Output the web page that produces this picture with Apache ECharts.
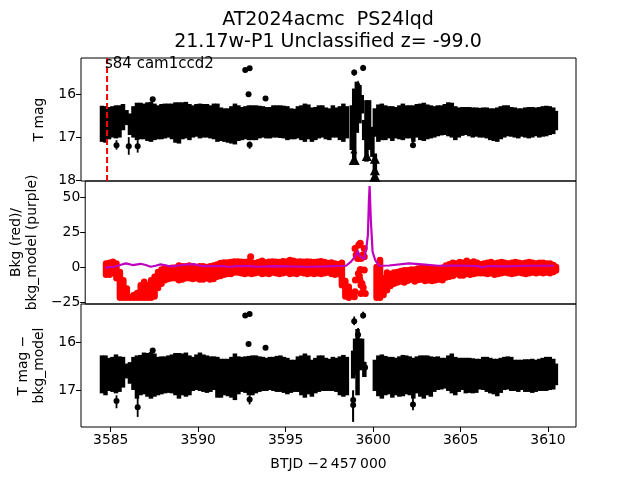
<!DOCTYPE html>
<html><head><meta charset="utf-8">
<style>html,body{margin:0;padding:0;background:#fff}#c{width:640px;height:480px}</style>
<script src="https://cdn.jsdelivr.net/npm/echarts@6/dist/echarts.min.js"></script>
</head><body><div id="c"></div>
<script>
const xTicks=[3585,3590,3595,3600,3605,3610];
const magTicksTop=[16,17,18], bgTicks=[-25,0,25,50], magTicksBot=[16,17];
const titleLine1='AT2024acmc  PS24lqd', titleLine2='21.17w-P1 Unclassified z= -99.0';
const note='s84 cam1ccd2';
const discoveryTime=3584.79;

const bandTimes=[3584.5,3584.7,3584.9,3585.1,3585.3,3585.5,3585.7,3585.9,3586.1,3586.3,
3586.5,3586.7,3586.9,3587.1,3587.3,3587.5,3587.7,3587.9,3588.1,3588.3,
3588.5,3588.7,3588.9,3589.1,3589.3,3589.5,3589.7,3589.9,3590.1,3590.3,
3590.5,3590.7,3590.9,3591.1,3591.3,3591.5,3591.7,3591.9,3592.1,3592.3,
3592.5,3592.7,3592.9,3593.1,3593.3,3593.5,3593.7,3593.9,3594.1,3594.3,
3594.5,3594.7,3594.9,3595.1,3595.3,3595.5,3595.7,3595.9,3596.1,3596.3,
3596.5,3596.7,3596.9,3597.1,3597.3,3597.5,3597.7,3597.9,3598.1,3598.3,3598.5,
3600.1,3600.3,3600.5,3600.7,3600.9,3601.1,3601.3,3601.5,3601.7,3601.9,
3602.1,3602.3,3602.5,3602.7,3602.9,3603.1,3603.3,3603.5,3603.7,3603.9,
3604.1,3604.3,3604.5,3604.7,3604.9,3605.1,3605.3,3605.5,3605.7,3605.9,
3606.1,3606.3,3606.5,3606.7,3606.9,3607.1,3607.3,3607.5,3607.7,3607.9,
3608.1,3608.3,3608.5,3608.7,3608.9,3609.1,3609.3,3609.5,3609.7,3609.9,
3610.1,3610.3,3610.45];

const magUpper=[16.27,16.28,16.30,16.28,16.26,16.26,16.23,16.37,16.45,16.28,
16.20,16.20,16.22,16.19,16.18,16.22,16.26,16.23,16.22,16.22,
16.22,16.19,16.19,16.19,16.18,16.23,16.26,16.23,16.22,16.23,
16.23,16.26,16.22,16.22,16.31,16.33,16.33,16.28,16.22,16.26,
16.30,16.28,16.26,16.26,16.26,16.27,16.28,16.30,16.30,16.26,
16.26,16.26,16.27,16.28,16.33,16.34,16.28,16.26,16.22,16.24,
16.31,16.30,16.26,16.26,16.31,16.33,16.26,16.31,16.28,16.22,16.28,
16.33,16.24,16.22,16.26,16.28,16.28,16.30,16.26,16.22,16.26,
16.26,16.26,16.23,16.22,16.20,16.24,16.26,16.28,16.26,16.26,
16.23,16.19,16.20,16.28,16.31,16.30,16.30,16.30,16.31,16.31,
16.32,16.31,16.31,16.33,16.33,16.31,16.28,16.26,16.26,16.30,
16.31,16.33,16.33,16.31,16.30,16.30,16.31,16.30,16.28,16.27,
16.28,16.31,16.39];
const magLower=[17.11,17.13,17.05,17.01,17.03,17.01,16.84,16.72,16.95,17.01,
17.07,17.05,17.05,17.09,17.11,17.07,17.05,17.05,17.03,17.01,
17.05,17.13,17.15,17.05,17.03,17.07,17.01,16.99,17.03,17.01,
17.01,17.03,17.05,17.11,17.09,17.11,17.13,17.15,17.17,17.09,
17.07,17.05,17.07,17.07,17.07,17.03,17.01,17.03,17.03,17.01,
17.01,17.02,17.03,17.07,17.05,17.05,17.03,17.07,17.11,17.05,
17.11,17.07,17.03,17.01,17.05,17.07,17.01,17.01,17.07,17.11,17.03,
16.99,17.11,17.07,17.07,17.03,17.09,17.03,17.05,17.07,17.03,
17.03,17.11,17.01,17.07,17.09,17.05,17.03,17.01,16.98,16.96,
16.95,16.98,17.01,17.07,17.01,16.97,16.95,16.98,17.01,16.99,
17.01,17.01,17.03,17.07,17.09,17.11,17.05,17.01,16.98,16.99,
17.01,17.03,16.99,17.01,17.03,17.01,16.98,17.01,16.99,16.98,
16.95,16.93,16.84];

const bkgUpper=[2.5,3,3.8,2.5,-3.5,-9.5,-15.4,-21.4,-20,-18.5,
-13,-10.6,-13,-9.5,-7,-3.5,-1.8,-0.6,-1.1,-0.6,
-0.3,1,0.5,0.5,1,0.5,0,0.5,0.5,0,
0.5,1,1.8,2.8,3.3,3.3,3.5,4,4,3.8,
3.5,4,3.3,2.8,3.5,4.5,3.3,3.8,4,3.8,
3.5,4.2,4,5,4.5,3.8,4,3.8,4,3.8,
3.5,3.8,4.2,3.5,2.8,3.3,2.5,2,3,-10,-14,
0,5,-8,-4,-5,-4,-3.5,-2.8,-2.3,-2.3,
-1.8,-1.8,-1,-0.6,-0.3,-1,-1,-1.5,-1,-0.5,
1,2,3,2.5,3.5,3,4.5,3,4,3,
2,2.5,3,3.5,2.5,3,3.5,3,2.5,3,
3.5,3,2.5,3,3.5,3,2.5,3,3,2.5,
2.5,1.5,0];
const bkgLower=[-5.6,-5.6,-4.5,-8,-22,-22,-22,-22,-22,-22,
-22,-22,-22,-22,-21,-15,-12,-9.5,-8.5,-8,
-8,-9.5,-9,-8,-8,-8.5,-8,-9,-9,-8,
-9,-8.5,-7,-6.5,-5.5,-5,-5,-4,-4,-4.5,
-5,-4.5,-5,-4.5,-4,-5,-4.5,-5,-4,-4.5,
-5,-4.5,-4,-5,-4.5,-5,-4,-4.5,-5,-4.5,
-5,-4.5,-5,-4.5,-4,-5,-5.5,-5,-13,-21,-22,
-22,-22,-20,-16.5,-13.5,-12,-11,-10.4,-11,-9.8,
-9,-10.4,-9.3,-9,-10,-9.5,-10,-9.5,-9,-9.5,
-7.5,-7,-6.5,-5,-6,-6,-5,-5.5,-5,-4.5,
-4.5,-4.5,-5,-4.5,-5.5,-5,-4.5,-4,-4.5,-5,
-4.5,-4,-4.5,-5,-4.5,-4,-4.5,-4,-4.5,-4,
-4.5,-3.5,-2.5];

const resUpper=[16.27,16.27,16.32,16.30,16.25,16.29,16.30,16.44,16.41,16.30,
16.27,16.26,16.21,16.22,16.20,16.23,16.30,16.29,16.29,16.27,
16.25,16.22,16.22,16.23,16.21,16.27,16.30,16.25,16.21,16.25,
16.27,16.29,16.29,16.30,16.34,16.34,16.34,16.30,16.23,16.29,
16.30,16.29,16.28,16.27,16.27,16.29,16.30,16.32,16.30,16.30,
16.28,16.27,16.30,16.32,16.36,16.36,16.29,16.27,16.23,16.27,
16.36,16.32,16.27,16.27,16.32,16.34,16.30,16.32,16.29,16.26,16.30,
16.36,16.27,16.25,16.28,16.30,16.30,16.32,16.29,16.26,16.27,
16.29,16.32,16.29,16.27,16.27,16.27,16.29,16.30,16.29,16.32,
16.32,16.27,16.23,16.30,16.32,16.32,16.32,16.32,16.33,16.34,
16.34,16.30,16.30,16.32,16.34,16.34,16.32,16.30,16.29,16.30,
16.36,16.36,16.36,16.35,16.35,16.34,16.36,16.34,16.32,16.30,
16.30,16.34,16.44];
const resLower=[17.06,17.10,17.01,17.03,17.06,17.03,16.94,16.75,16.86,16.99,
17.17,17.10,17.08,17.13,17.17,17.13,17.10,17.08,17.06,17.05,
17.06,17.10,17.17,17.10,17.13,17.10,17.01,16.99,17.01,17.03,
17.05,17.03,16.99,17.15,17.15,17.10,17.12,17.15,17.20,17.08,
17.03,17.05,17.10,17.10,17.06,17.03,17.01,17.01,16.99,17.01,
17.03,17.03,17.05,17.08,17.05,17.03,17.03,17.10,17.15,17.08,
17.13,17.06,17.03,17.01,17.01,17.01,17.01,17.03,17.10,17.13,17.10,
17.01,17.12,17.17,17.10,17.08,17.15,17.10,17.13,17.12,17.08,
17.10,17.17,17.06,17.13,17.17,17.10,17.13,17.03,16.99,16.98,
16.96,17.01,17.06,17.10,17.03,16.99,17.06,17.05,17.06,17.05,
16.98,16.99,17.03,17.06,17.08,17.12,17.05,16.99,16.98,17.01,
17.01,17.03,16.99,17.03,17.03,17.05,17.03,17.01,17.01,17.01,
16.99,16.98,16.89];

const magColTimes=[3598.78,3598.92,3599.07,3599.22,3599.35,3599.49,3599.62,3599.77,3599.96,3600.1];
const magColUpper=[16.26,15.87,15.71,15.79,16.02,16.60,16.14,16.14,16.76,17.38];
const magColLower=[17.30,17.61,16.90,16.68,16.45,17.07,17.57,17.30,17.46,17.96];
const resColTimes=[3598.86,3598.97,3599.11,3599.24,3599.37,3599.5];
const resColUpper=[16.17,15.92,15.72,15.92,15.92,16.41];
const resColLower=[16.75,16.68,17.10,16.58,16.48,16.72];

const magDotTimes=[3585.33,3586.03,3586.54,3587.4,3592.69,3592.94,3592.88,3593.85,3592.94,3598.92,3599.43,3602.28];
const magDotVals=[17.19,17.21,17.21,16.12,15.44,15.40,16.0,16.10,17.18,15.50,15.39,17.19];
const magDotUp=[17.07,17.0,17.07,16.08,15.41,15.37,15.97,16.07,17.1,15.43,15.32,17.1];
const magDotLow=[17.29,17.41,17.36,16.16,15.47,15.43,16.03,16.13,17.27,15.57,15.46,17.25];
const triTimes=[3598.92,3599.64,3600.1,3600.1,3600.1,3599.14,3598.9,3599.8];
const triVals=[17.52,17.44,17.5,17.77,17.91,15.75,17.3,17.2];
const triSizes=[11,10,10,10,11,6,7,7];

const resDotTimes=[3585.33,3586.54,3587.4,3592.69,3592.94,3592.88,3593.85,3592.94,3598.92,3599.43,3599.14,3599.54,3598.86,3598.86,3602.28];
const resDotVals=[17.22,17.35,16.17,15.44,15.41,16.03,16.11,17.19,15.56,15.44,15.84,16.52,17.2,17.3,17.29];
const resDotUp=[17.1,17.1,16.13,15.41,15.38,16.0,16.08,17.1,15.46,15.36,15.7,16.4,17.0,17.0,17.16];
const resDotLow=[17.37,17.55,16.2,15.47,15.44,16.06,16.14,17.29,15.64,15.5,15.95,16.72,17.65,17.65,17.41];

const bkgDotTimes=[3598.86,3599.16,3599.07,3599.39,3598.92,3599.39,3599.01,3599.20,3599.30,3599.16,3599.39,3598.88,3599.14,3599.20,3599.33,3598.86,3598.82,3599.45,3599.05,3599.11,3599.26,3599.20,3592.84];
const bkgDotVals=[13.3,16.9,15.7,13.3,8.5,7.3,6.1,6.1,8.5,-1.7,-2.2,-9.3,-9.3,-12.9,-14.6,-17.7,-21.2,-18.9,-4.6,-6.5,-11.7,-18.9,7.3];

const modelTimes=[3584.45,3584.98,3585.36,3585.65,3586.03,3586.5,3586.79,3587.07,3587.36,3587.64,3588.12,3588.5,3588.98,3589.55,3590.02,3590.69,3591.26,3591.64,3592.02,3592.78,3593.35,3594.11,3595.06,3596.02,3597.16,3598.34,3598.63,3598.92,3599.01,3599.14,3599.39,3599.52,3599.6,3599.66,3599.7,3599.73,3599.77,3599.87,3600.02,3600.25,3600.82,3601.96,3602.72,3603.67,3604.62,3605.96,3606.15,3606.53,3607.48,3608.81,3610.33];
const modelVals=[-0.5,0.2,1.6,2.6,1.4,2.3,1.4,0.2,0.9,1.9,0.7,0.7,1.6,2.1,0.7,0.7,0.7,0,0.7,0.7,0.2,0.7,0.4,0.2,0.4,0.9,3.8,8.5,11.6,7.8,5.4,14.5,22.8,47.8,57.8,57.3,33.5,10.9,5,0.9,1.1,2.6,1.9,0.9,1.1,0.7,-0.3,0.7,0.4,0.9,0.9];

const FONT='DejaVu Sans';
const zip=(...a)=>a[0].map((_,i)=>a.map(c=>c[i]));
const rangeSeries=(idx,rows,width,cap,color,z)=>({
  type:'custom',xAxisIndex:idx,yAxisIndex:idx,clip:true,z,silent:true,
  encode:{x:0,y:[1,2]},data:rows,
  renderItem:(p,api)=>{
    const a=api.coord([api.value(0),api.value(1)]),b=api.coord([api.value(0),api.value(2)]);
    return {type:'line',shape:{x1:a[0],y1:a[1],x2:b[0],y2:b[1]},
      style:{stroke:color,lineWidth:width,lineCap:cap}};
  }
});
const dots=(idx,rows,size,color,z,symbol)=>({
  type:'scatter',xAxisIndex:idx,yAxisIndex:idx,data:rows,symbol:symbol||'circle',
  symbolSize:size,itemStyle:{color,opacity:1},z,silent:true,clip:true
});
const xBase=(i,show)=>({
  type:'value',gridIndex:i,min:3583.3,max:3611.6,splitLine:{show:false},
  axisLine:{show:false},
  axisTick:{show,length:5,inside:false,lineStyle:{color:'#000',width:1},customValues:xTicks},
  axisLabel:{show,color:'#000',fontFamily:FONT,fontSize:13.9,margin:6,customValues:xTicks,formatter:v=>String(v)}
});
const yBase=(i,min,max,inv,ticks,name,gap)=>({
  type:'value',gridIndex:i,min,max,inverse:inv,splitLine:{show:false},
  axisLine:{show:false},
  axisTick:{show:true,length:5,lineStyle:{color:'#000',width:1},customValues:ticks},
  axisLabel:{show:true,color:'#000',fontFamily:FONT,fontSize:13.9,margin:5,customValues:ticks,
    formatter:v=>String(v).replace('-','\u2212')},
  name,nameLocation:'middle',nameRotate:90,nameGap:gap,
  nameTextStyle:{color:'#000',fontFamily:FONT,fontSize:13.9,lineHeight:16,align:'center',verticalAlign:'middle'}
});
const gridBase=top=>({left:81,width:495,top,height:123,show:true,borderColor:'#000',borderWidth:1,backgroundColor:'transparent',containLabel:false});

const chart=echarts.init(document.getElementById('c'),null,{renderer:'canvas'});
const xLast=xBase(2,true);
xLast.name='BTJD \u22122\u2009457\u2009000';
xLast.nameLocation='middle';xLast.nameGap=30;
xLast.nameTextStyle={color:'#000',fontFamily:FONT,fontSize:13.9};
chart.setOption({
  animation:false,backgroundColor:'#fff',
  grid:[gridBase(58),gridBase(181),gridBase(304)],
  xAxis:[xBase(0,false),xBase(1,false),xLast],
  yAxis:[
    yBase(0,15.16,18.02,true,magTicksTop,'T mag',38),
    yBase(1,-26.4,61.4,false,bgTicks,'Bkg (red)/\nbkg_model (purple)',38),
    yBase(2,15.2,17.76,true,magTicksBot,'T mag \u2212\nbkg_model',38)
  ],
  title:[
    {text:titleLine1,left:328,top:11,textAlign:'center',padding:0,textStyle:{fontFamily:FONT,fontSize:19,fontWeight:'normal',color:'#000'}},
    {text:titleLine2,left:328,top:33,textAlign:'center',padding:0,textStyle:{fontFamily:FONT,fontSize:19,fontWeight:'normal',color:'#000'}}
  ],
  graphic:[{type:'text',left:105,top:57,z:100,style:{text:note,fontFamily:FONT,fontSize:15,fill:'#000'}}],
  series:[
    rangeSeries(0,zip(bandTimes,magUpper,magLower),4.5,'butt','#000',2),
    rangeSeries(0,zip(magColTimes,magColUpper,magColLower),4.5,'butt','#000',2),
    rangeSeries(0,zip(magDotTimes,magDotUp,magDotLow),1.8,'butt','#000',3),
    dots(0,zip(magDotTimes,magDotVals),6,'#000',3),
    dots(0,zip(triTimes,triVals),(v,p)=>triSizes[p.dataIndex],'#000',3,'triangle'),
    {type:'line',xAxisIndex:0,yAxisIndex:0,data:[[discoveryTime,15.16],[discoveryTime,18.02]],
      showSymbol:false,symbol:'none',z:4,silent:true,
      lineStyle:{color:'#ff0000',width:2,type:[6,3]}},
    rangeSeries(1,zip(bandTimes,bkgUpper,bkgLower),6.5,'round','#ff0000',2),
    dots(1,zip(bkgDotTimes,bkgDotVals),7,'#ff0000',2),
    {type:'line',xAxisIndex:1,yAxisIndex:1,data:zip(modelTimes,modelVals),symbol:'none',showSymbol:false,
      z:5,silent:true,clip:true,lineStyle:{color:'#bf00bf',width:2.2}},
    rangeSeries(2,zip(bandTimes,resUpper,resLower),4.5,'butt','#000',2),
    rangeSeries(2,zip(resColTimes,resColUpper,resColLower),4.5,'butt','#000',2),
    rangeSeries(2,zip(resDotTimes,resDotUp,resDotLow),1.8,'butt','#000',3),
    dots(2,zip(resDotTimes,resDotVals),6,'#000',3)
  ]
});
</script></body></html>
